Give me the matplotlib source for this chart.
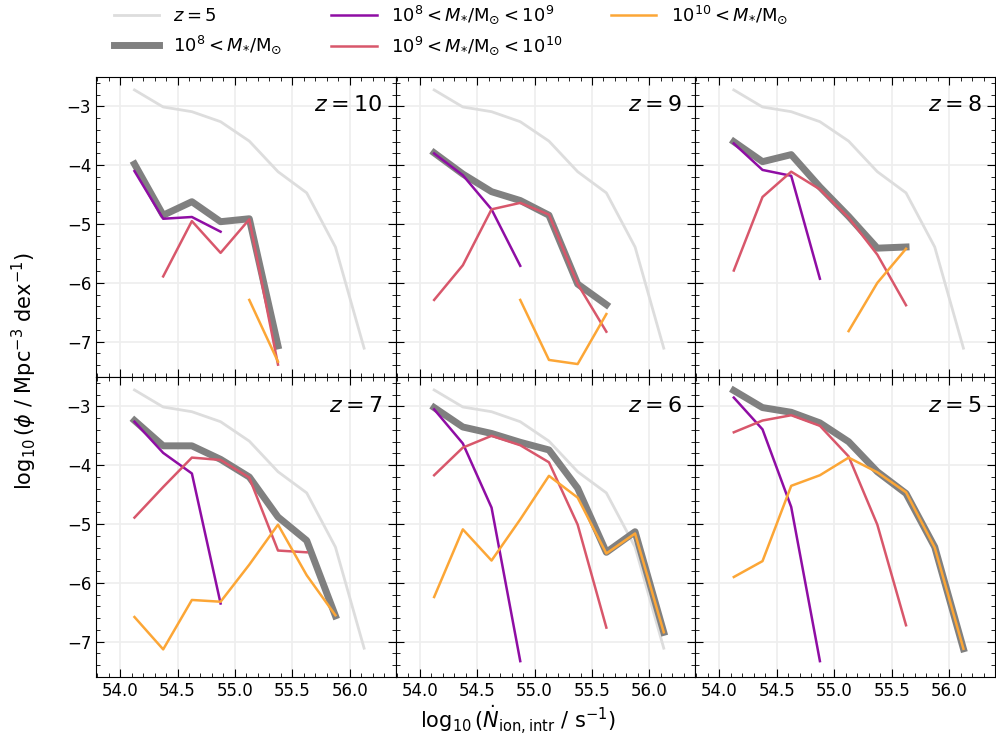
import numpy as np
import matplotlib
matplotlib.use("Agg")
import matplotlib.pyplot as plt
from matplotlib.ticker import MultipleLocator

# bin centres of log10(Ndot_ion)
xbins = [54.125, 54.375, 54.625, 54.875, 55.125, 55.375, 55.625, 55.875, 56.125]

# reference z=5 total (drawn in every panel)
ref_z5 = [-2.72, -3.01, -3.09, -3.26, -3.59, -4.11, -4.47, -5.39, -7.11]

# per-redshift curves (None = no data)
total = {
    10: [-3.98, -4.85, -4.62, -4.96, -4.91, -7.07, None, None, None],
    9: [-3.79, -4.15, -4.45, -4.60, -4.85, -6.02, -6.37, None, None],
    8: [-3.60, -3.94, -3.82, -4.37, -4.87, -5.41, -5.39, None, None],
    7: [-3.24, -3.67, -3.67, -3.90, -4.20, -4.88, -5.28, -6.56, None],
    6: [-3.02, -3.35, -3.46, -3.61, -3.74, -4.39, -5.48, -5.13, -6.84],
    5: [-2.73, -3.02, -3.10, -3.28, -3.60, -4.11, -4.48, -5.39, -7.12],
}
low = {
    10: [-4.10, -4.91, -4.88, -5.13, None, None, None, None, None],
    9: [-3.80, -4.17, -4.75, -5.71, None, None, None, None, None],
    8: [-3.63, -4.08, -4.18, -5.93, None, None, None, None, None],
    7: [-3.26, -3.79, -4.14, -6.35, None, None, None, None, None],
    6: [-3.05, -3.63, -4.72, -7.33, None, None, None, None, None],
    5: [-2.85, -3.39, -4.71, -7.33, None, None, None, None, None],
}
mid = {
    10: [None, -5.89, -4.95, -5.49, -4.92, -7.39, None, None, None],
    9: [-6.29, -5.70, -4.75, -4.64, -4.84, -6.02, -6.83, None, None],
    8: [-5.79, -4.54, -4.11, -4.41, -4.89, -5.52, -6.38, None, None],
    7: [-4.89, -4.37, -3.87, -3.91, -4.21, -5.45, -5.48, None, None],
    6: [-4.17, -3.70, -3.50, -3.66, -3.95, -5.01, -6.76, None, None],
    5: [-3.44, -3.24, -3.15, -3.33, -3.85, -5.01, -6.72, None, None],
}
high = {
    10: [None, None, None, None, -6.29, -7.34, None, None, None],
    9: [None, None, None, -6.29, -7.31, -7.38, -6.53, None, None],
    8: [None, None, None, None, -6.82, -6.00, -5.42, None, None],
    7: [-6.58, -7.13, -6.29, -6.32, -5.69, -5.01, -5.87, -6.55, None],
    6: [-6.24, -5.09, -5.62, -4.92, -4.18, -4.55, -5.50, -5.16, -6.84],
    5: [-5.90, -5.63, -4.35, -4.17, -3.87, -4.12, -4.46, -5.40, -7.12],
}
redshifts = [10, 9, 8, 7, 6, 5]

c_low = "#8f0da4"
c_mid = "#d8576b"
c_high = "#fca636"


def arr(v):
    return np.array([np.nan if a is None else a for a in v], dtype=float)


fig, axes = plt.subplots(2, 3, figsize=(9.96, 7.43), dpi=100, sharex=True, sharey=True)
fig.subplots_adjust(left=0.0964, right=0.999, top=0.8964, bottom=0.0888, wspace=0, hspace=0)

x = np.array(xbins)
for ax, z in zip(axes.flat, redshifts):
    ax.grid(True, color="#eeeeee", lw=1.2, zorder=0)
    ax.set_axisbelow(True)
    ax.plot(x, ref_z5, color="#dddddd", lw=2, label="$z=5$")
    ax.plot(x, arr(total[z]), color="grey", lw=5, label=r"$10^8 < M_{*}/\mathrm{M}_{\odot}$")
    ax.plot(x, arr(low[z]), color=c_low, lw=1.8, label=r"$10^8 < M_{*}/\mathrm{M}_{\odot} < 10^9$")
    ax.plot(x, arr(mid[z]), color=c_mid, lw=1.8, label=r"$10^9 < M_{*}/\mathrm{M}_{\odot} < 10^{10}$")
    ax.plot(x, arr(high[z]), color=c_high, lw=1.8, label=r"$10^{10} < M_{*}/\mathrm{M}_{\odot}$")
    ax.text(0.955, 0.905, "$z=%d$" % z, transform=ax.transAxes, ha="right", va="center", fontsize=16)
    ax.set_xlim(53.79, 56.4)
    ax.set_ylim(-7.6, -2.5)
    ax.xaxis.set_major_locator(MultipleLocator(0.5))
    ax.xaxis.set_minor_locator(MultipleLocator(0.1))
    ax.yaxis.set_major_locator(MultipleLocator(1))
    ax.yaxis.set_minor_locator(MultipleLocator(0.2))
    ax.tick_params(which="both", direction="in", top=True, right=True, labelsize=12)
    ax.tick_params(which="major", length=6)
    ax.tick_params(which="minor", length=3)

handles, labels = axes[0, 0].get_legend_handles_labels()
fig.legend(handles, labels, ncol=3, loc="upper left", bbox_to_anchor=(0.098, 1.017),
           frameon=False, fontsize=13, handlelength=2.5, columnspacing=2.7)

fig.supxlabel(r"$\log_{10}(\dot{N}_{\mathrm{ion,intr}}$ / s$^{-1}$)", x=0.52, y=0.01, fontsize=15)
fig.supylabel(r"$\log_{10}(\phi$ / Mpc$^{-3}$ dex$^{-1}$)", x=0.01, y=0.5, fontsize=15)

fig.savefig("out.png", dpi=100)
